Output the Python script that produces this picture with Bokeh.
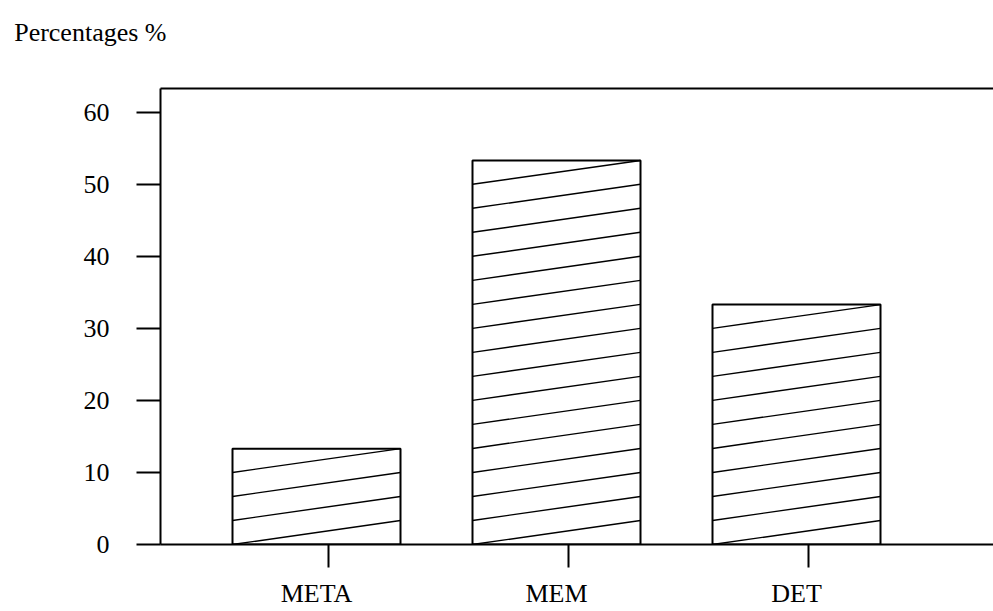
from bokeh.plotting import figure
from bokeh.models import (Range1d, FixedTicker, LinearAxis, ColumnDataSource)
from bokeh.embed import file_html
from bokeh.resources import INLINE

# ---- data ----
categories = ["META", "MEM", "DET"]
percentages = [13.3, 53.3, 33.3]
y_ticks = [0, 10, 20, 30, 40, 50, 60]
title_text = "Percentages %"

# ---- style ----
FONT = "Liberation Serif"
FSIZE = "26px"
BAR_W = 0.7
TICK_SHIFT = 0.05
HATCH_STEP = 10.0 / 3.0
X_START = 0.35
TITLE_X = X_START + 6 / 240   # right end of the title text, just inside frame

xs = [i + 1 for i in range(len(categories))]

p = figure(width=993, height=611, output_backend="svg", toolbar_location=None,
           x_range=Range1d(X_START, 3.7875 + 8 / 240), y_range=Range1d(0, 63.29),
           min_border_left=160, min_border_right=0, min_border_top=88,
           min_border_bottom=67, x_axis_type=None, y_axis_type=None)
p.background_fill_color = "white"
p.border_fill_color = "white"
p.outline_line_color = None
p.xgrid.visible = False
p.ygrid.visible = False

# bars
src = ColumnDataSource(dict(x=xs, top=percentages, cat=categories))
p.vbar(x="x", top="top", width=BAR_W, source=src, fill_color="white",
       line_color="black", line_width=2)

# hatch lines computed from bar values
x0, y0, x1, y1 = [], [], [], []
for xc, v in zip(xs, percentages):
    n = int(round(v / HATCH_STEP))
    for k in range(n):
        x0.append(xc - BAR_W / 2)
        y0.append(k * HATCH_STEP)
        x1.append(xc + BAR_W / 2)
        y1.append(min((k + 1) * HATCH_STEP, v))
p.segment(x0=x0, y0=y0, x1=x1, y1=y1, line_color="black", line_width=1.4)

# y axis
yax = LinearAxis(ticker=FixedTicker(ticks=y_ticks))
yax.axis_line_width = 2
yax.major_tick_line_width = 2
yax.major_tick_out = 24
yax.major_tick_in = 0
yax.minor_tick_line_color = None
yax.major_label_standoff = 27
yax.major_label_text_font = FONT
yax.major_label_text_font_size = FSIZE
yax.major_label_text_color = "black"
p.add_layout(yax, "left")

# x axis: tick marks (no labels)
xax = LinearAxis(ticker=FixedTicker(ticks=[x + TICK_SHIFT for x in xs]))
xax.axis_line_width = 2
xax.major_tick_line_width = 2
xax.major_tick_out = 23
xax.major_tick_in = 0
xax.minor_tick_line_color = None
xax.major_label_text_font_size = "0px"
xax.major_label_standoff = 0
xax.major_label_text_color = None
p.add_layout(xax, "below")

# x axis: category labels centred on the bars
lax = LinearAxis(ticker=FixedTicker(ticks=xs),
                 major_label_overrides={x: c for x, c in zip(xs, categories)})
lax.axis_line_color = None
lax.major_tick_line_color = None
lax.minor_tick_line_color = None
lax.major_label_standoff = 5
lax.major_label_text_font = FONT
lax.major_label_text_font_size = FSIZE
lax.major_label_text_color = "black"
p.add_layout(lax, "below")

# top border line, carrying the chart title as its only label
tax = LinearAxis(ticker=FixedTicker(ticks=[TITLE_X]),
                 major_label_overrides={TITLE_X: title_text})
tax.axis_line_width = 2
tax.major_tick_line_color = None
tax.minor_tick_line_color = None
tax.major_label_standoff = 50
tax.major_label_orientation = -0.0001
tax.major_label_text_font = FONT
tax.major_label_text_font_size = FSIZE
tax.major_label_text_color = "black"
p.add_layout(tax, "above")

open("out.html", "w").write(file_html(p, INLINE))
